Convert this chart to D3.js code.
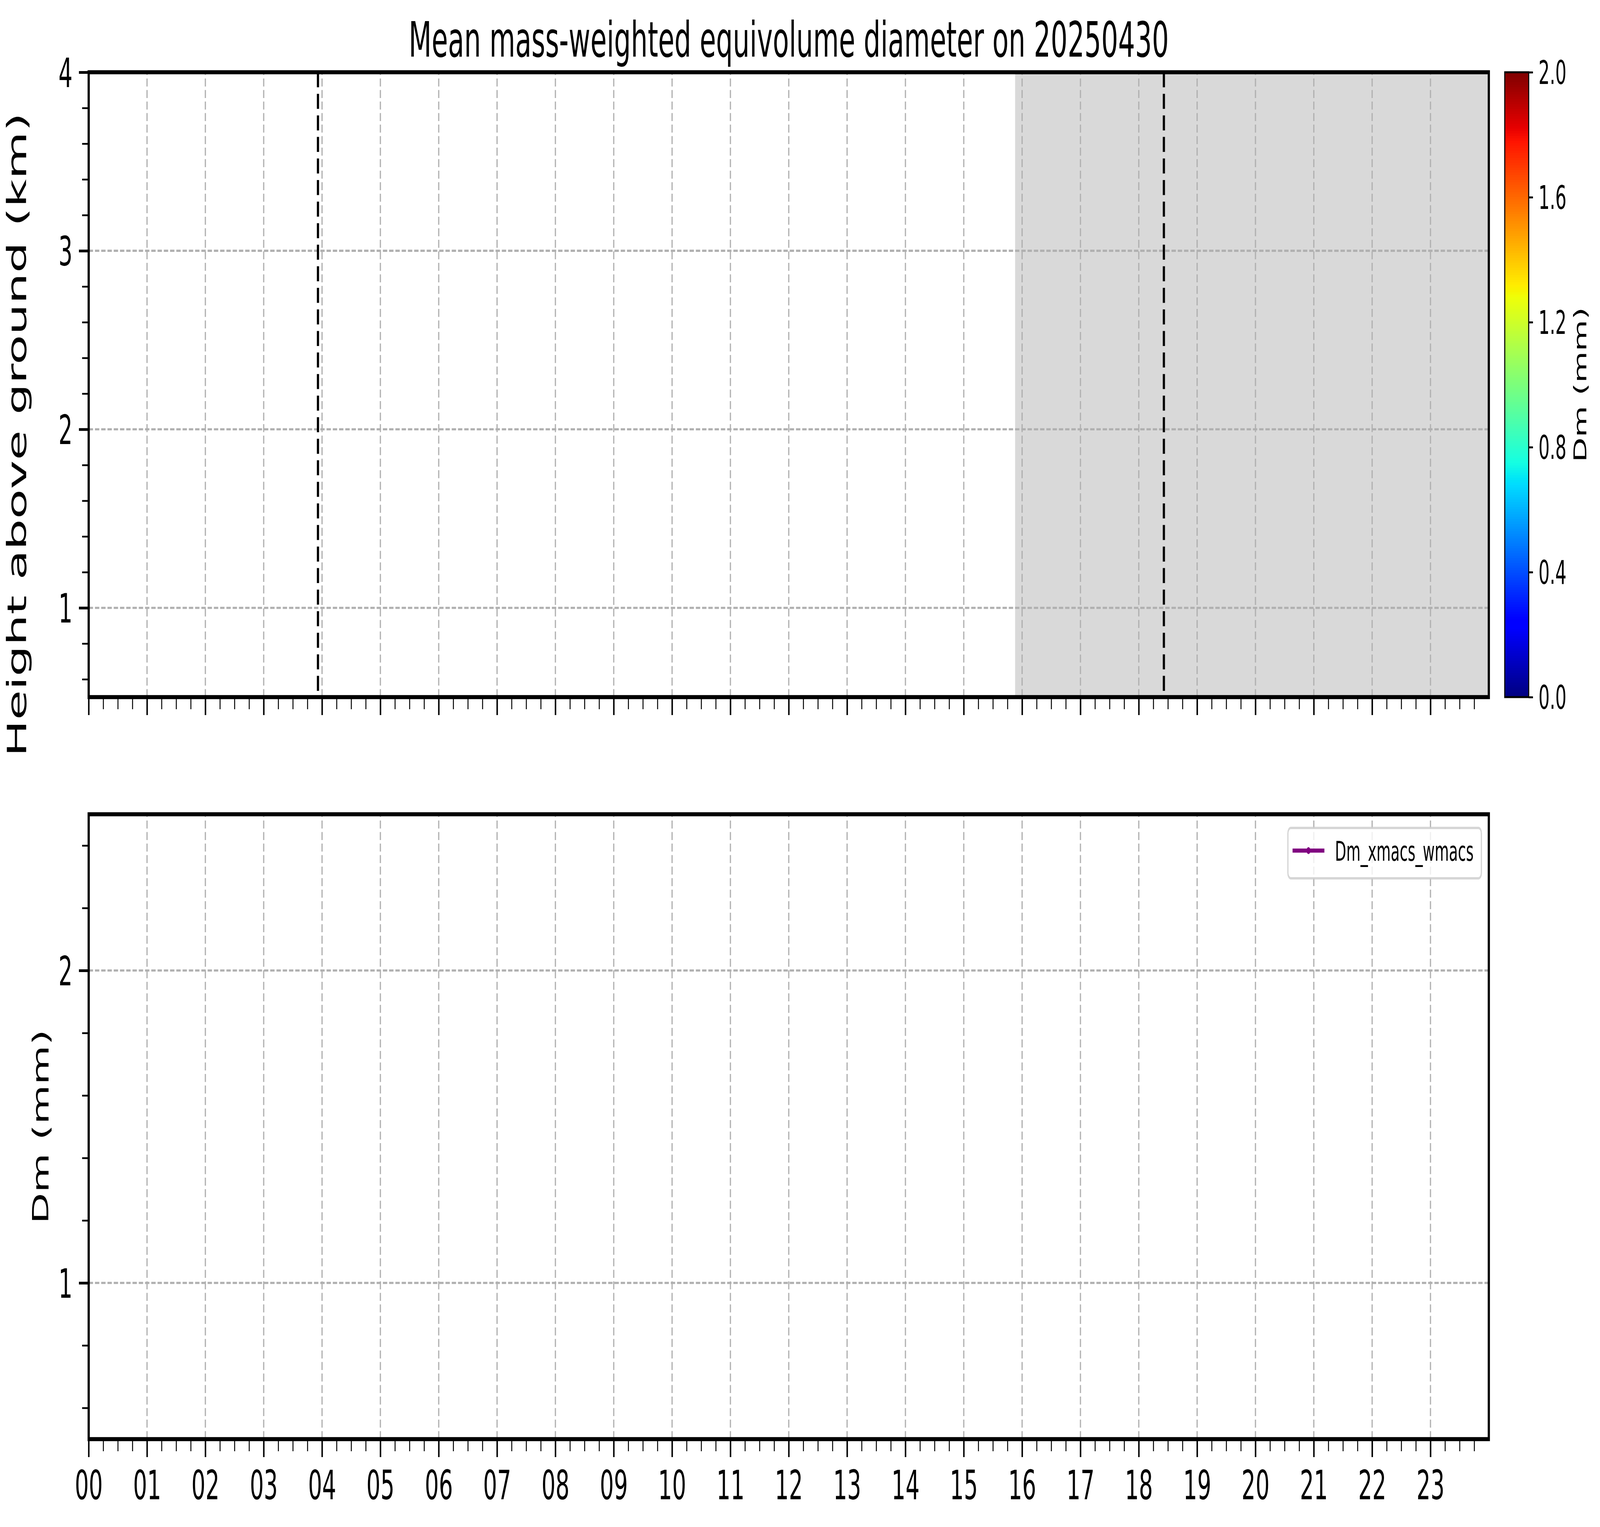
<!DOCTYPE html>
<html>
<head>
<meta charset="utf-8">
<script src="https://cdn.jsdelivr.net/npm/d3@7"></script>
<style>
  html, body { margin: 0; padding: 0; background: #fff; overflow: hidden; }
  svg { display: block; width: 100vw; height: 100vh; }
  text { font-family: "DejaVu Sans", sans-serif; fill: #000; }
</style>
</head>
<body>
<svg id="chart"></svg>
<script>
// ---- data ----
const hourTicks = d3.range(0, 24);
const hourLabels = hourTicks.map((h) => String(h).padStart(2, "0"));
const heightTicks = [1, 2, 3, 4];
const dmTicks = [1, 2];
const cbarTicks = [0.0, 0.4, 0.8, 1.2, 1.6, 2.0];
const shadedPeriods = [[15.88, 24]];   // hours with grey background
const markerLines = [3.93, 18.43];     // black dashed verticals
const dmSeries = [];                   // Dm_xmacs_wmacs: no retrievals on this day
const seriesName = "Dm_xmacs_wmacs";
const titleText = "Mean mass-weighted equivolume diameter on 20250430";

// figure is laid out in the reference's pixel space and stretched to the window
const W = 7541, H = 3910;
const left = 418, right = 7017;
const topPanel = { y0: 185, y1: 1785 };
const botPanel = { y0: 2085, y1: 3685 };
const cbar = { x0: 7092, x1: 7205 };

const svg = d3.select("#chart")
  .attr("viewBox", `0 0 ${W} ${H}`)
  .attr("preserveAspectRatio", "none");
svg.append("rect").attr("width", W).attr("height", H).attr("fill", "#fff");

const x = d3.scaleLinear().domain([0, 24]).range([left, right]);
const yHeight = d3.scaleLinear().domain([0.5, 4]).range([topPanel.y1, topPanel.y0]);
const yDm = d3.scaleLinear().domain([0.5, 2.5]).range([botPanel.y1, botPanel.y0]);

// matplotlib "jet"
const jetR = d3.scaleLinear().domain([0, 0.35, 0.66, 0.89, 1]).range([0, 0, 1, 1, 0.5]).clamp(true);
const jetG = d3.scaleLinear().domain([0, 0.125, 0.375, 0.64, 0.91, 1]).range([0, 0, 1, 1, 0, 0]).clamp(true);
const jetB = d3.scaleLinear().domain([0, 0.11, 0.34, 0.65, 1]).range([0.5, 1, 1, 0, 0]).clamp(true);
const jet = (t) => d3.rgb(255 * jetR(t), 255 * jetG(t), 255 * jetB(t)).formatHex();
const dmColor = d3.scaleSequential(jet).domain([0, 2]);

const minorHours = d3.range(0, 24.001, 0.25).filter((h) => h % 1 !== 0);

function grid(g, y, yMajor) {
  g.append("g").selectAll("line").data(hourTicks).join("line")
    .attr("x1", (d) => x(d)).attr("x2", (d) => x(d))
    .attr("y1", y.range()[0]).attr("y2", y.range()[1])
    .attr("stroke", "#b0b0b0").attr("stroke-width", 5.6)
    .attr("stroke-dasharray", "20.6 8.9");
  g.append("g").selectAll("line").data(yMajor).join("line")
    .attr("x1", left).attr("x2", right)
    .attr("y1", (d) => y(d)).attr("y2", (d) => y(d))
    .attr("stroke", "#b0b0b0").attr("stroke-width", 5.6)
    .attr("stroke-dasharray", "20.6 8.9");
}

function spinesAndAxes(g, y, yMajor, yMinor, showXLabels) {
  const y0 = y.range()[1], y1 = y.range()[0];
  g.append("rect").attr("x", left).attr("y", y0)
    .attr("width", right - left).attr("height", y1 - y0)
    .attr("fill", "none").attr("stroke", "#000").attr("stroke-width", 10.4);

  const xMajor = g.append("g").attr("transform", `translate(0,${y1})`)
    .call(d3.axisBottom(x).tickValues(hourTicks).tickSize(46).tickPadding(34)
      .tickFormat((d, i) => (showXLabels ? hourLabels[i] : null)));
  const xMin = g.append("g").attr("transform", `translate(0,${y1})`)
    .call(d3.axisBottom(x).tickValues(minorHours).tickSize(31).tickFormat(""));
  const yMaj = g.append("g").attr("transform", `translate(${left},0)`)
    .call(d3.axisLeft(y).tickValues(yMajor).tickSize(46).tickPadding(30).tickFormat(d3.format("d")));
  const yMin = g.append("g").attr("transform", `translate(${left},0)`)
    .call(d3.axisLeft(y).tickValues(yMinor).tickSize(31).tickFormat(""));

  [xMajor, xMin, yMaj, yMin].forEach((a) => a.select(".domain").remove());
  [xMin, yMin].forEach((a) => a.selectAll(".tick text").remove());
  if (!showXLabels) xMajor.selectAll(".tick text").remove();
  [xMajor, yMaj].forEach((a) => a.selectAll(".tick line").attr("stroke", "#000").attr("stroke-width", 7));
  [xMin, yMin].forEach((a) => a.selectAll(".tick line").attr("stroke", "#000").attr("stroke-width", 4.5));
  [xMajor, yMaj].forEach((a) => a.selectAll(".tick text")
    .attr("font-size", 104).attr("fill", "#000").style("font-family", '"DejaVu Sans", sans-serif'));
  yMaj.selectAll(".tick text").attr("dy", "0.36em");
}

// ---- top panel: height vs time ----
const gTop = svg.append("g");
gTop.append("g").selectAll("rect").data(shadedPeriods).join("rect")
  .attr("x", (d) => x(d[0])).attr("width", (d) => x(d[1]) - x(d[0]))
  .attr("y", topPanel.y0).attr("height", topPanel.y1 - topPanel.y0)
  .attr("fill", "#d9d9d9");
const heightMinor = d3.range(0.6, 4, 0.2).filter((v) => Math.abs(v - Math.round(v)) > 1e-6);
grid(gTop, yHeight, heightTicks);
gTop.append("g").selectAll("line").data(markerLines).join("line")
  .attr("x1", (d) => x(d)).attr("x2", (d) => x(d))
  .attr("y1", topPanel.y0).attr("y2", topPanel.y1)
  .attr("stroke", "#000").attr("stroke-width", 10.4)
  .attr("stroke-dasharray", "38.5 16.7");
spinesAndAxes(gTop, yHeight, heightTicks, heightMinor, false);

gTop.append("text")
  .attr("transform", "translate(124,1113) rotate(-90)")
  .attr("text-anchor", "middle").attr("font-size", 125)
  .text("Height above ground (km)");

gTop.append("text")
  .attr("x", (left + right) / 2).attr("y", 145)
  .attr("text-anchor", "middle").attr("font-size", 125)
  .text(titleText);

// ---- colorbar ----
const yCbar = d3.scaleLinear().domain([0, 2]).range([topPanel.y1, topPanel.y0]);
const cbarSteps = d3.range(256).map((i) => (i / 256) * 2);
const gCbar = svg.append("g");
gCbar.selectAll("rect").data(cbarSteps).join("rect")
  .attr("x", cbar.x0).attr("width", cbar.x1 - cbar.x0)
  .attr("y", (d) => yCbar(d + 2 / 256) - 0.5)
  .attr("height", (d) => yCbar(d) - yCbar(d + 2 / 256) + 1)
  .attr("fill", (d) => dmColor(d + 1 / 256));
gCbar.append("rect").attr("x", cbar.x0).attr("y", topPanel.y0)
  .attr("width", cbar.x1 - cbar.x0).attr("height", topPanel.y1 - topPanel.y0)
  .attr("fill", "none").attr("stroke", "#000").attr("stroke-width", 5);
const cAxis = gCbar.append("g").attr("transform", `translate(${cbar.x1},0)`)
  .call(d3.axisRight(yCbar).tickValues(cbarTicks).tickSize(20).tickPadding(26).tickFormat(d3.format(".1f")));
cAxis.select(".domain").remove();
cAxis.selectAll(".tick line").attr("stroke", "#000").attr("stroke-width", 5);
cAxis.selectAll(".tick text").attr("font-size", 83).attr("fill", "#000").attr("dy", "0.36em")
  .style("font-family", '"DejaVu Sans", sans-serif');
gCbar.append("text")
  .attr("transform", `translate(7476,${(topPanel.y0 + topPanel.y1) / 2}) rotate(-90)`)
  .attr("text-anchor", "middle").attr("font-size", 83)
  .text("Dm (mm)");

// ---- bottom panel: Dm time series ----
const gBot = svg.append("g");
const dmMinor = d3.range(0.6, 2.5, 0.2).filter((v) => Math.abs(v - Math.round(v)) > 1e-6);
grid(gBot, yDm, dmTicks);
const line = d3.line().x((d) => x(d.hour)).y((d) => yDm(d.dm));
gBot.append("path").datum(dmSeries).attr("d", line)
  .attr("fill", "none").attr("stroke", "purple").attr("stroke-width", 10.4);

// legend
const lg = gBot.append("g").attr("transform", `translate(${right - 35 - 912},${botPanel.y0 + 35})`);
lg.append("rect").attr("width", 912).attr("height", 129).attr("rx", 14)
  .attr("fill", "#fff").attr("fill-opacity", 0.8)
  .attr("stroke", "#cccccc").attr("stroke-opacity", 0.8).attr("stroke-width", 6);
lg.append("line").attr("x1", 22).attr("x2", 172).attr("y1", 58).attr("y2", 58)
  .attr("stroke", "purple").attr("stroke-width", 10.4);
lg.append("circle").attr("cx", 97).attr("cy", 58).attr("r", 9).attr("fill", "purple");
lg.append("text").attr("x", 222).attr("y", 84).attr("font-size", 69).text(seriesName);

spinesAndAxes(gBot, yDm, dmTicks, dmMinor, true);

gBot.append("text")
  .attr("transform", `translate(228,${(botPanel.y0 + botPanel.y1) / 2}) rotate(-90)`)
  .attr("text-anchor", "middle").attr("font-size", 104)
  .text("Dm (mm)");
</script>
</body>
</html>
